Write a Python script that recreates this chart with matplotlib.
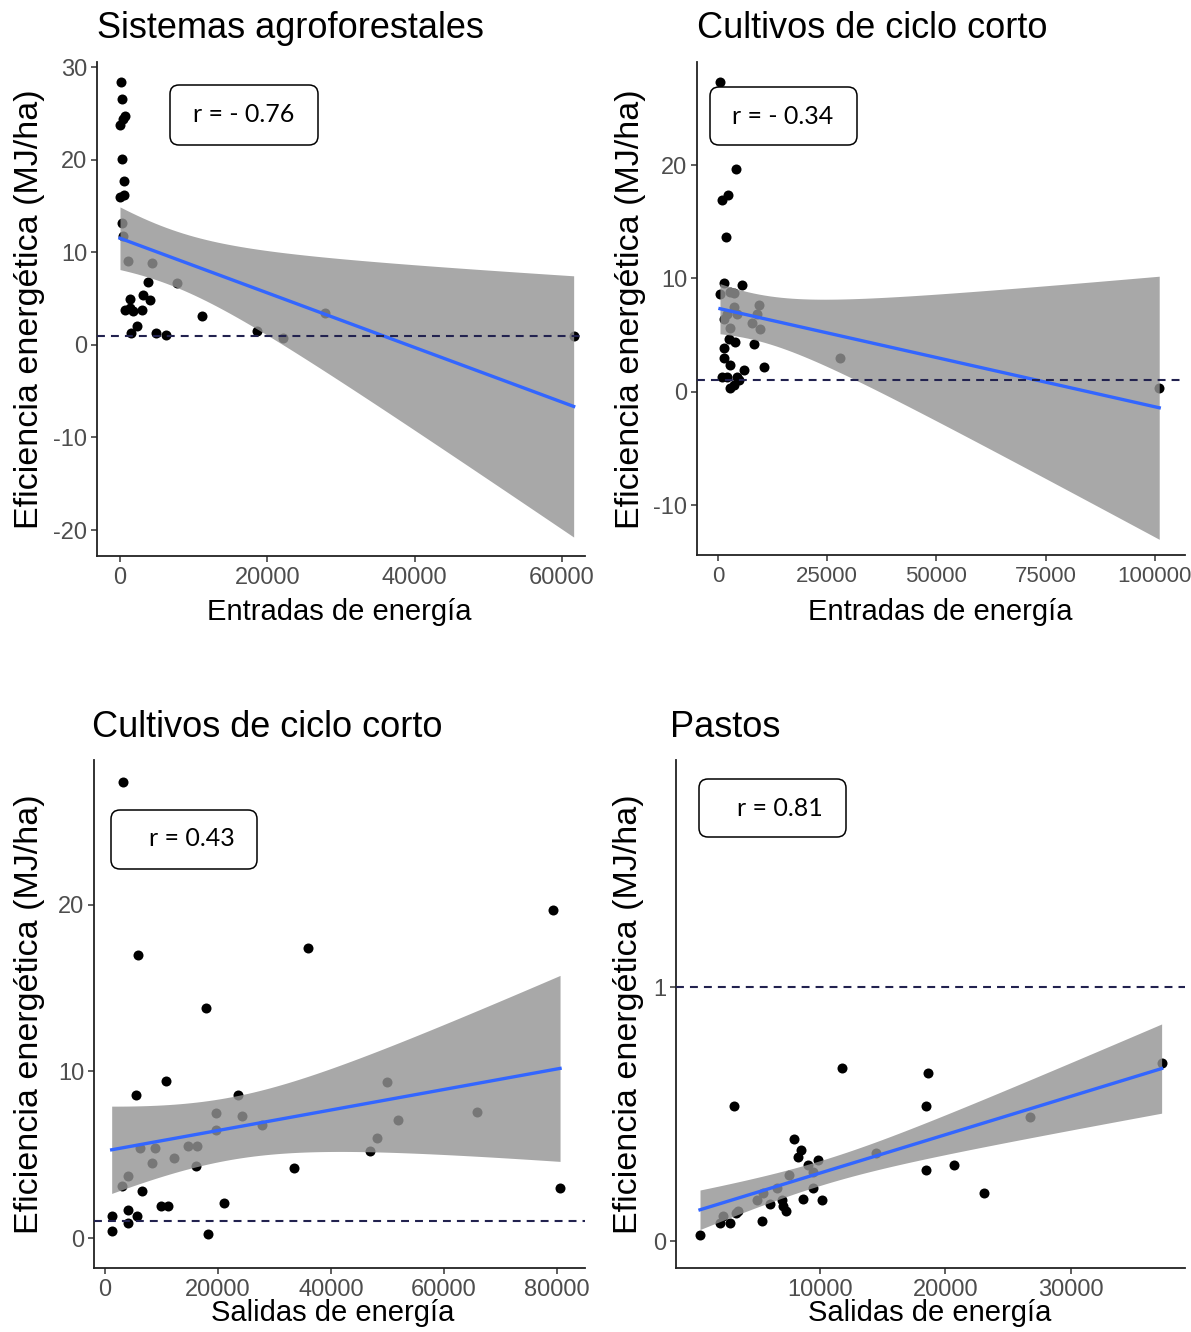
import numpy as np
import matplotlib
matplotlib.use("Agg")
import matplotlib.pyplot as plt
from matplotlib.patches import FancyBboxPatch
from matplotlib.transforms import IdentityTransform

W, H = 1191, 1332

# ---------------- data ----------------
agro_x = [100, 310, 680, 370, 0, 230, 580, 580, 50, 310, 450, 1100, 4350, 7800, 3800,
          3100, 4100, 1400, 700, 1800, 3000, 1300, 2300, 1450, 4900, 6300, 11150, 18600,
          22100, 27800, 61600]
agro_y = [28.4, 26.6, 24.7, 24.4, 23.8, 20.1, 17.7, 16.2, 16.0, 13.2, 11.8, 9.1, 8.9, 6.7, 6.8,
          5.4, 4.9, 5.0, 3.8, 3.7, 3.8, 4.0, 2.0, 1.3, 1.3, 1.1, 3.1, 1.5,
          0.8, 3.4, 1.0]

cc_in_x = [460, 4120, 2360, 850, 1830, 1300, 5490, 2810, 530, 3590, 3590, 9310, 2060, 4350,
           8920, 7780, 2810, 9680, 1300, 2450, 3960, 1300, 1300, 2810, 8170, 10460, 2060,
           4350, 5880, 3590, 2810, 4740, 915, 27900, 101000]
cc_in_y = [27.3, 19.7, 17.4, 16.9, 13.7, 9.6, 9.4, 8.85, 8.65, 8.7, 7.5, 7.7, 6.9, 6.9,
           6.9, 6.1, 5.6, 5.5, 6.4, 4.7, 4.4, 3.9, 3.0, 2.4, 4.2, 2.2, 1.35,
           1.35, 1.9, 0.6, 0.3, 1.05, 1.35, 3.0, 0.3]

cc_out_x = [3240, 5900, 36000, 17880, 10800, 5490, 23600, 19650, 24300, 19650, 27700, 6200,
            8850, 14630, 16230, 8260, 12200, 16100, 4130, 2950, 33500, 6500, 9900, 11200,
            21050, 1180, 4010, 5600, 4130, 1180, 18300, 46900, 48090, 49860, 51920, 65790,
            79240, 80540]
cc_out_y = [27.4, 17.0, 17.4, 13.8, 9.4, 8.6, 8.6, 7.5, 7.3, 6.5, 6.8, 5.4,
            5.4, 5.5, 5.5, 4.5, 4.8, 4.3, 3.7, 3.1, 4.2, 2.8, 1.9, 1.9,
            2.1, 1.3, 1.7, 1.3, 0.9, 0.45, 0.25, 5.2, 6.0, 9.35, 7.1, 7.55,
            19.7, 3.0]

pastos_x = [480, 3180, 11750, 18640, 18460, 18460, 20680, 23090, 26730, 37200, 7950, 8490,
            8250, 9890, 9090, 7580, 14450, 9490, 8700, 10210, 6980, 7100, 7320, 6050, 5390,
            2860, 2070, 3520, 3340, 4990, 5510, 6580, 9470, 2330]
pastos_y = [0.025, 0.53, 0.68, 0.66, 0.53, 0.28, 0.30, 0.19, 0.49, 0.70, 0.40, 0.36,
            0.33, 0.32, 0.30, 0.26, 0.345, 0.21, 0.165, 0.16, 0.16, 0.14, 0.12, 0.146, 0.08,
            0.072, 0.072, 0.12, 0.11, 0.16, 0.19, 0.21, 0.27, 0.10]

titles = ["Sistemas agroforestales", "Cultivos de ciclo corto",
          "Cultivos de ciclo corto", "Pastos"]
xlabels = ["Entradas de energía", "Entradas de energía",
           "Salidas de energía", "Salidas de energía"]
ylabel = "Eficiencia energética (MJ/ha)"
r_labels = ["r = - 0.76", "r = - 0.34", "r = 0.43", "r = 0.81"]
ref_line = 1

xticks = [[0, 20000, 40000, 60000], [0, 25000, 50000, 75000, 100000],
          [0, 20000, 40000, 60000, 80000], [10000, 20000, 30000]]
yticks = [[-20, -10, 0, 10, 20, 30], [-10, 0, 10, 20], [0, 10, 20], [0, 1]]
xlims = [(-3120, 63140), (-4800, 106900), (-1950, 84956), (-1430, 39060)]
ylims = [(-22.8, 30.56), (-14.4, 29.1), (-1.8, 28.7), (-0.106, 1.894)]

# panel boxes in pixels (left, top, right, bottom)
panels = [(97, 62, 585, 556), (697, 62, 1185, 555), (94, 760, 585, 1268), (676, 760, 1185, 1268)]
boxes = [(170, 85, 318, 145), (710, 87, 857, 145), (111, 810, 257, 869), (699, 779, 846, 837)]
box_text = [(244, 114), (783, 116), (192, 839), (780, 808)]
title_pos = [(97, 28), (697, 28), (92, 727), (670, 727)]
xlabel_pos = [(339, 612), (940, 612), (333, 1313), (930, 1313)]
ylabel_pos = [(30, 309), (630, 309), (30, 1014), (628, 1014)]
xtick_size = [17, 16, 17, 17]

datasets = [(agro_x, agro_y), (cc_in_x, cc_in_y), (cc_out_x, cc_out_y), (pastos_x, pastos_y)]


def t_quant(df):
    z = 1.959964
    return z + (z**3 + z) / (4 * df) + (5 * z**5 + 16 * z**3 + 3 * z) / (96 * df**2)


def lm_band(x, y, n_pts=80):
    x = np.asarray(x, float)
    y = np.asarray(y, float)
    n = len(x)
    b, a = np.polyfit(x, y, 1)
    res = y - (a + b * x)
    s = np.sqrt(np.sum(res**2) / (n - 2))
    xm = x.mean()
    sxx = np.sum((x - xm) ** 2)
    xs = np.linspace(x.min(), x.max(), n_pts)
    yf = a + b * xs
    se = s * np.sqrt(1 / n + (xs - xm) ** 2 / sxx)
    t = t_quant(n - 2)
    return xs, yf, yf - t * se, yf + t * se


fig = plt.figure(figsize=(W / 100, H / 100), dpi=100)
fig.patch.set_facecolor("white")
FONT = ["Liberation Sans", "DejaVu Sans"]

for i, (xd, yd) in enumerate(datasets):
    l, t, r, b = panels[i]
    ax = fig.add_axes([l / W, 1 - b / H, (r - l) / W, (b - t) / H])
    ax.scatter(xd, yd, s=52, color="black", zorder=2, linewidths=0)
    xs, yf, lo, hi = lm_band(xd, yd)
    ax.fill_between(xs, lo, hi, color=(0.58, 0.58, 0.58), alpha=0.81, linewidth=0, zorder=3)
    ax.plot(xs, yf, color="#3366FF", lw=2.4, zorder=4)
    ax.axhline(ref_line, color="#22224f", lw=1.5, dashes=(3.8, 2.9), zorder=5)
    ax.set_xlim(*xlims[i])
    ax.set_ylim(*ylims[i])
    ax.set_xticks(xticks[i])
    ax.set_yticks(yticks[i])
    ax.set_xticklabels([str(v) for v in xticks[i]])
    ax.set_yticklabels([str(v) for v in yticks[i]])
    for sp in ["top", "right"]:
        ax.spines[sp].set_visible(False)
    for sp in ["left", "bottom"]:
        ax.spines[sp].set_linewidth(1.3)
        ax.spines[sp].set_color("#222222")
    ax.tick_params(axis="both", length=4, width=1.1, color="#333333", labelcolor="#4D4D4D",
                   labelsize=17, pad=3)
    ax.tick_params(axis="x", labelsize=xtick_size[i], pad=4)
    for lab in ax.get_xticklabels() + ax.get_yticklabels():
        lab.set_family(FONT)

    # titles and labels
    tx, ty = title_pos[i]
    fig.text(tx / W, 1 - ty / H, titles[i], ha="left", va="center", fontsize=26,
             family=FONT, color="black")
    xx, xy = xlabel_pos[i]
    fig.text(xx / W, 1 - xy / H, xlabels[i], ha="center", va="center", fontsize=21,
             family=FONT, color="black")
    yx, yy = ylabel_pos[i]
    fig.text(yx / W, 1 - yy / H, ylabel, ha="center", va="center", rotation=90,
             fontsize=24.5, family=FONT, color="black")

    # r box
    bl, bt, br, bb = boxes[i]
    patch = FancyBboxPatch((bl, H - bb), br - bl, bb - bt,
                           boxstyle="round,pad=0,rounding_size=9",
                           transform=IdentityTransform(), facecolor="white",
                           edgecolor="black", linewidth=1.1, zorder=10)
    fig.add_artist(patch)
    cx, cy = box_text[i]
    fig.text(cx / W, 1 - cy / H, r_labels[i], ha="center", va="center", fontsize=18,
             family=["Lato", "DejaVu Sans"], color="black", zorder=11)

fig.savefig("out.png", dpi=100, facecolor="white")
